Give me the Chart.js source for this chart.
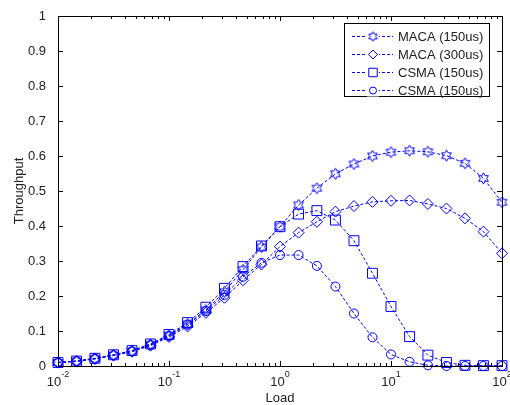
<!DOCTYPE html>
<html>
<head>
<meta charset="utf-8">
<script src="https://cdn.jsdelivr.net/npm/chart.js@4.4.1/dist/chart.umd.min.js"></script>
<style>
  html, body { margin: 0; padding: 0; background: #fff; }
  #wrap { width: 510px; height: 405px; }
</style>
</head>
<body>
<div id="wrap"><canvas id="myChart" width="510" height="405"></canvas></div>
<script>
// load values (log spaced, 6 per decade)
var load = [0.01, 0.0147, 0.0215, 0.0316, 0.0464, 0.0681, 0.1, 0.147, 0.215, 0.316, 0.464, 0.681,
            1, 1.47, 2.15, 3.16, 4.64, 6.81, 10, 14.7, 21.5, 31.6, 46.4, 68.1, 100];
var maca150 = [0.010, 0.014, 0.021, 0.031, 0.043, 0.062, 0.088, 0.120, 0.160, 0.212, 0.275, 0.340,
               0.398, 0.460, 0.508, 0.549, 0.577, 0.600, 0.611, 0.615, 0.612, 0.601, 0.579, 0.536, 0.468];
var maca300 = [0.010, 0.013, 0.020, 0.030, 0.041, 0.058, 0.083, 0.113, 0.152, 0.195, 0.245, 0.290,
               0.341, 0.381, 0.412, 0.441, 0.457, 0.469, 0.472, 0.473, 0.463, 0.450, 0.422, 0.384, 0.322];
var csma150 = [0.010, 0.014, 0.022, 0.032, 0.044, 0.063, 0.090, 0.124, 0.168, 0.222, 0.284, 0.343,
               0.398, 0.434, 0.444, 0.417, 0.358, 0.265, 0.170, 0.084, 0.031, 0.010, 0.002, 0.001, 0.001];
var csma150b = [0.010, 0.014, 0.021, 0.031, 0.042, 0.060, 0.086, 0.118, 0.157, 0.203, 0.255, 0.295,
                0.317, 0.317, 0.286, 0.227, 0.150, 0.082, 0.033, 0.012, 0.002, 0, 0, 0, 0];
var seriesNames = ["MACA (150us)", "MACA (300us)", "CSMA (150us)", "CSMA (150us)"];
var yTicks = [0, 0.1, 0.2, 0.3, 0.4, 0.5, 0.6, 0.7, 0.8, 0.9, 1];
var xExponents = [-2, -1, 0, 1, 2];

var blue = 'rgb(0,0,255)';
var txt = '#222';
var fontName = '"Liberation Sans", Arial, sans-serif';

// hexagram marker
function makeHexagram(r1){
	var c = document.createElement('canvas');
	c.width = 13; c.height = 13;
	var g = c.getContext('2d');
	g.strokeStyle = blue;
	g.lineWidth = 1;
	g.beginPath();
	for (var i = 0; i < 12; i++){
		var r = (i % 2 === 0) ? r1 : r1 * 0.57;
		var a = -Math.PI / 2 + i * Math.PI / 6;
		var px = 6.5 + r * Math.cos(a), py = 6.5 + r * Math.sin(a);
		if (i === 0) g.moveTo(px, py); else g.lineTo(px, py);
	}
	g.closePath();
	g.stroke();
	return c;
}
var hexagram = makeHexagram(5.6);
var hexagramSmall = makeHexagram(4.8);

function toXY(arr){
	return load.map(function(x, i){ return {x: x, y: arr[i]}; });
}
function makeSet(i, arr, style, radius){
	return {
		label: seriesNames[i],
		data: toXY(arr),
		borderColor: blue,
		borderWidth: 1,
		borderDash: [3, 2],
		pointStyle: style,
		pointRadius: radius,
		pointHoverRadius: radius,
		pointBorderColor: blue,
		pointBackgroundColor: 'rgba(0,0,0,0)',
		pointBorderWidth: 1,
		tension: 0,
		clip: false
	};
}

var frame = {
	id: 'frame',
	afterDraw: function(chart){
		var ctx = chart.ctx;
		var a = chart.chartArea;
		var xs = chart.scales.x, ys = chart.scales.y;
		ctx.save();
		ctx.strokeStyle = '#000';
		ctx.lineWidth = 1;
		ctx.setLineDash([]);
		ctx.strokeRect(Math.round(a.left) + 0.5, Math.round(a.top) + 0.5,
			Math.round(a.right - a.left), Math.round(a.bottom - a.top));
		ctx.beginPath();
		yTicks.forEach(function(v){
			var y = Math.round(ys.getPixelForValue(v)) + 0.5;
			ctx.moveTo(a.left, y); ctx.lineTo(a.left + 5, y);
			ctx.moveTo(a.right, y); ctx.lineTo(a.right - 5, y);
		});
		for (var e = -2; e <= 2; e++){
			for (var m = 1; m <= 9; m++){
				if (e === 2 && m > 1) break;
				var x = Math.round(xs.getPixelForValue(m * Math.pow(10, e))) + 0.5;
				var len = (m === 1) ? 5 : 3;
				ctx.moveTo(x, a.bottom); ctx.lineTo(x, a.bottom - len);
				ctx.moveTo(x, a.top); ctx.lineTo(x, a.top + len);
			}
		}
		ctx.stroke();

		// x tick labels 10^n
		ctx.fillStyle = txt;
		ctx.textBaseline = 'middle';
		ctx.textAlign = 'left';
		xExponents.forEach(function(e){
			var x = xs.getPixelForValue(Math.pow(10, e));
			ctx.font = '13px ' + fontName;
			var wb = ctx.measureText('10').width;
			ctx.font = '9px ' + fontName;
			var ex = String(e);
			var we = ctx.measureText(ex).width;
			var x0 = x - (wb + we) / 2;
			ctx.font = '13px ' + fontName;
			ctx.fillText('10', x0, a.bottom + 16);
			ctx.font = '9px ' + fontName;
			ctx.fillText(ex, x0 + wb, a.bottom + 9);
		});

		// legend
		var bl = a.right - 158, bt = a.top + 7, bw = 145, bh = 73;
		ctx.fillStyle = '#fff';
		ctx.fillRect(bl, bt, bw, bh);
		ctx.strokeStyle = '#000';
		ctx.strokeRect(Math.round(bl) + 0.5, Math.round(bt) + 0.5, bw, bh);
		chart.data.datasets.forEach(function(ds, i){
			var y = Math.round(bt + 12.5 + i * 18) + 0.5;
			ctx.strokeStyle = blue;
			ctx.setLineDash([3, 2]);
			ctx.beginPath();
			ctx.moveTo(bl + 8, y);
			ctx.lineTo(bl + 49, y);
			ctx.stroke();
			ctx.setLineDash([]);
			ctx.fillStyle = '#fff';
			ctx.fillRect(bl + 23, y - 6, 12, 12);
			var st = (ds.pointStyle === hexagram) ? hexagramSmall : ds.pointStyle;
			Chart.helpers.drawPoint(ctx, {pointStyle: st, radius: ds.pointRadius - 1, rotation: 0, borderWidth: 1}, bl + 29, y);
			ctx.fillStyle = txt;
			ctx.font = '13px ' + fontName;
			ctx.textAlign = 'left';
			ctx.fillText(ds.label, bl + 54, y + 0.5);
		});
		ctx.restore();
	}
};

var ctx = document.getElementById('myChart').getContext('2d');
var chart = new Chart(ctx, {
	type: 'line',
	data: {
		datasets: [
			makeSet(0, maca150, hexagram, 6),
			makeSet(1, maca300, 'rectRot', 5.5),
			makeSet(2, csma150, 'rect', 7),
			makeSet(3, csma150b, 'circle', 4.5)
		]
	},
	options: {
		responsive: false,
		animation: false,
		layout: { padding: { top: 16, right: 5, left: 0, bottom: 0 } },
		plugins: { legend: { display: false }, tooltip: { enabled: false } },
		scales: {
			x: {
				type: 'logarithmic',
				min: 0.01,
				max: 100,
				grid: { display: false },
				border: { display: false },
				ticks: { display: false },
				title: { display: true, text: 'Load', color: txt, padding: 0,
					font: { family: fontName, size: 13, lineHeight: 1 } },
				afterFit: function(s){ s.height = 39; }
			},
			y: {
				min: 0,
				max: 1,
				grid: { display: false },
				border: { display: false },
				ticks: {
					stepSize: 0.1,
					padding: 4,
					color: txt,
					font: { family: fontName, size: 13 },
					callback: function(v){ return String(Math.round(v * 10) / 10); }
				},
				title: { display: true, text: 'Throughput', color: txt, padding: { top: 12, bottom: 0 },
					font: { family: fontName, size: 13 } },
				afterFit: function(s){ s.width = 58; }
			}
		}
	},
	plugins: [frame]
});
</script>
</body>
</html>
